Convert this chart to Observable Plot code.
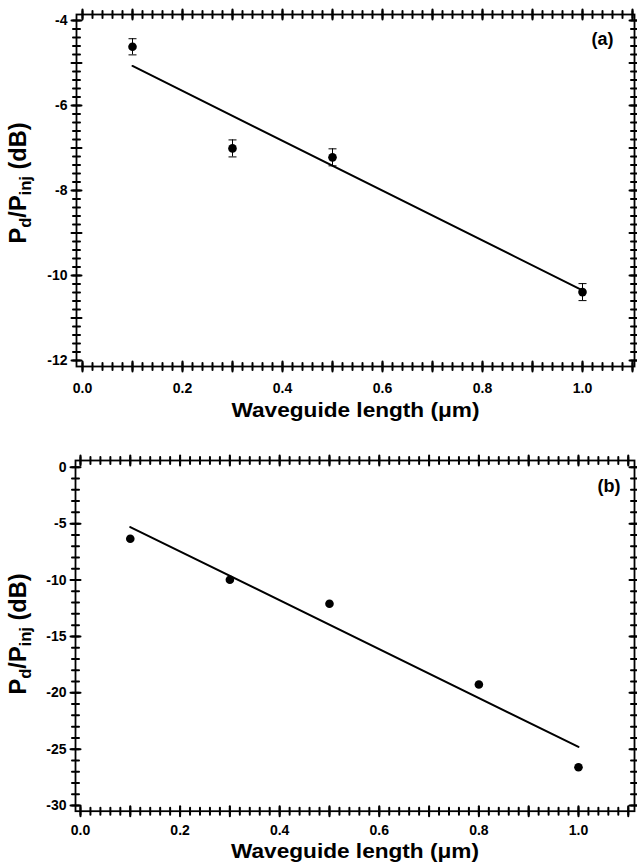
<!DOCTYPE html>
<html><head><meta charset="utf-8">
<script src="https://cdn.jsdelivr.net/npm/d3@7"></script>
<script src="https://cdn.jsdelivr.net/npm/@observablehq/plot@0.6"></script>
<style>
body{margin:0;background:#fff;width:637px;}
svg{display:block;}
</style>
</head><body><div id="chart"></div>
<script>
// Panel (a)
const lengthsA = [0.1, 0.3, 0.5, 1.0];
const lossA = [-4.62, -7.01, -7.22, -10.39];
const errA = [0.19, 0.2, 0.2, 0.2];
const fitLengthsA = [0.1, 1.0];
const fitA = [-5.07, -10.35];

// Panel (b)
const lengthsB = [0.1, 0.3, 0.5, 0.8, 1.0];
const lossB = [-6.34, -9.97, -12.1, -19.26, -26.6];
const fitLengthsB = [0.1, 1.0];
const fitB = [-5.3, -24.8];

// Tick labels
const xTickLabels = [0.0, 0.2, 0.4, 0.6, 0.8, 1.0];
const yTickLabelsA = [-12, -10, -8, -6, -4];
const yTickLabelsB = [-30, -25, -20, -15, -10, -5, 0];

const FONT = "'Liberation Sans', Arial, sans-serif";

const pointsA = lengthsA.map((len, i) => ({len, loss: lossA[i], err: errA[i]}));
const pointsB = lengthsB.map((len, i) => ({len, loss: lossB[i]}));
const fitDataA = fitLengthsA.map((len, i) => ({len, loss: fitA[i]}));
const fitDataB = fitLengthsB.map((len, i) => ({len, loss: fitB[i]}));

function steps(lo, hi, step, dec) {
  const n = Math.round((hi - lo) / step);
  return d3.range(n + 1).map(i => +(lo + i * step).toFixed(dec));
}
const inDomain = (arr, dom) => arr.filter(v => v >= Math.min(...dom) && v <= Math.max(...dom));

const capSymbol = {draw(ctx, size) { const r = Math.sqrt(size / Math.PI); ctx.moveTo(-r, 0); ctx.lineTo(r, 0); }};
const tickShape = {draw(ctx, l) { ctx.moveTo(0, 0); ctx.lineTo(0, -l); }};

function frameTicks(xMinor, xMajor, yMinor, yMajor) {
  const marks = [];
  for (const [ticks, len] of [[xMinor, 7], [xMajor, 10]]) {
    for (const fa of ["bottom", "top"]) {
      marks.push(Plot.vectorX(ticks, {x: d => d, frameAnchor: fa, length: len, anchor: "middle", rotate: 0,
        shape: tickShape, stroke: "black", strokeWidth: 2}));
    }
  }
  for (const [ticks, len] of [[yMinor, 7], [yMajor, 10]]) {
    for (const fa of ["left", "right"]) {
      marks.push(Plot.vectorY(ticks, {y: d => d, frameAnchor: fa, length: len, anchor: "middle", rotate: 90,
        shape: tickShape, stroke: "black", strokeWidth: 2}));
    }
  }
  return marks;
}

function addYLabel(svg, cx, cy) {
  const t = d3.select(svg).append("text")
    .attr("transform", `translate(${cx},${cy}) rotate(-90)`)
    .attr("text-anchor", "middle")
    .attr("textLength", 121).attr("lengthAdjust", "spacingAndGlyphs")
    .style("font-size", "24px").style("font-weight", "bold")
    .style("font-family", FONT).attr("fill", "black");
  t.append("tspan").text("P");
  t.append("tspan").style("font-size", "17px").attr("dy", 5).text("d");
  t.append("tspan").attr("dy", -5).text("/P");
  t.append("tspan").style("font-size", "17px").attr("dy", 5).text("inj");
  t.append("tspan").attr("dy", -5).text(" (dB)");
}

function fitTitle(svg) {
  d3.select(svg).selectAll("text").filter(function() { return this.textContent === "Waveguide length (μm)"; })
    .attr("textLength", 248).attr("lengthAdjust", "spacingAndGlyphs");
}

const style = {fontFamily: FONT, fontSize: "14px", fontWeight: "bold", background: "white", color: "black", overflow: "visible"};

function panel({height, marginLeft, marginTop, marginBottom, xDomain, yDomain, yMinorStep, yMajorStep, yLabels, points, fit, errors, tag, tagDx, tagDy, tickPad, titleDy}) {
  const xMinor = inDomain(steps(0, 1.1, 0.02, 2), xDomain);
  const xMajor = inDomain(steps(0, 1.1, 0.1, 1), xDomain);
  const yMinor = inDomain(steps(yLabels[0], yLabels[yLabels.length - 1], yMinorStep, 2), yDomain);
  const yMajor = inDomain(steps(yLabels[0], yLabels[yLabels.length - 1], yMajorStep, 2), yDomain);
  const marks = [
    ...frameTicks(xMinor, xMajor, yMinor, yMajor),
    Plot.frame({stroke: "black", strokeWidth: 1.8}),
    Plot.line(fit, {x: "len", y: "loss", stroke: "black", strokeWidth: 2}),
  ];
  if (errors) {
    marks.push(
      Plot.ruleX(points, {x: "len", y1: d => d.loss - d.err, y2: d => d.loss + d.err, stroke: "black", strokeWidth: 1}),
      Plot.dot(points, {x: "len", y: d => d.loss + d.err, symbol: capSymbol, r: 4, fill: "none", stroke: "black", strokeWidth: 1}),
      Plot.dot(points, {x: "len", y: d => d.loss - d.err, symbol: capSymbol, r: 4, fill: "none", stroke: "black", strokeWidth: 1})
    );
  }
  marks.push(
    Plot.dot(points, {x: "len", y: "loss", r: 4.3, fill: "black", stroke: "none"}),
    Plot.axisX(xTickLabels, {anchor: "bottom", tickSize: 0, tickPadding: tickPad, tickFormat: d3.format(".1f"), label: null, fill: "black", fontSize: 14, letterSpacing: 0.7}),
    Plot.axisY(yLabels, {anchor: "left", tickSize: 0, tickPadding: 9, tickFormat: d => String(d), label: null, fill: "black", fontSize: 14, letterSpacing: 0.7}),
    Plot.text(["Waveguide length (μm)"], {frameAnchor: "bottom", text: d => d, dy: titleDy, lineAnchor: "middle", fontSize: 21, fontWeight: "bold", fill: "black"}),
    Plot.text([tag], {frameAnchor: "top-right", text: d => d, dx: tagDx, dy: tagDy, textAnchor: "end", lineAnchor: "middle", fontSize: 18, fontWeight: "bold", fill: "black"})
  );
  return Plot.plot({
    width: 637, height, marginLeft, marginRight: 3, marginTop, marginBottom,
    x: {domain: xDomain},
    y: {domain: yDomain},
    style,
    marks
  });
}

const svgA = panel({
  height: 430, marginLeft: 76, marginTop: 14, marginBottom: 64,
  xDomain: [-0.012, 1.104], yDomain: [-12.14, -3.86],
  yMinorStep: 0.2, yMajorStep: 1, yLabels: yTickLabelsA,
  points: pointsA, fit: fitDataA, errors: true,
  tag: "(a)", tagDx: -21, tagDy: 25, tickPad: 17, titleDy: 44
});

const svgB = panel({
  height: 435, marginLeft: 75, marginTop: 30, marginBottom: 54.3,
  xDomain: [-0.01, 1.1125], yDomain: [-30.5, 0.6],
  yMinorStep: 1, yMajorStep: 5, yLabels: yTickLabelsB,
  points: pointsB, fit: fitDataB, errors: false,
  tag: "(b)", tagDx: -14, tagDy: 26, tickPad: 14, titleDy: 40
});

document.getElementById("chart").append(svgA, svgB);
addYLabel(svgA, 26, 183);
addYLabel(svgB, 26, 204);
fitTitle(svgA);
fitTitle(svgB);
</script>
</body></html>
